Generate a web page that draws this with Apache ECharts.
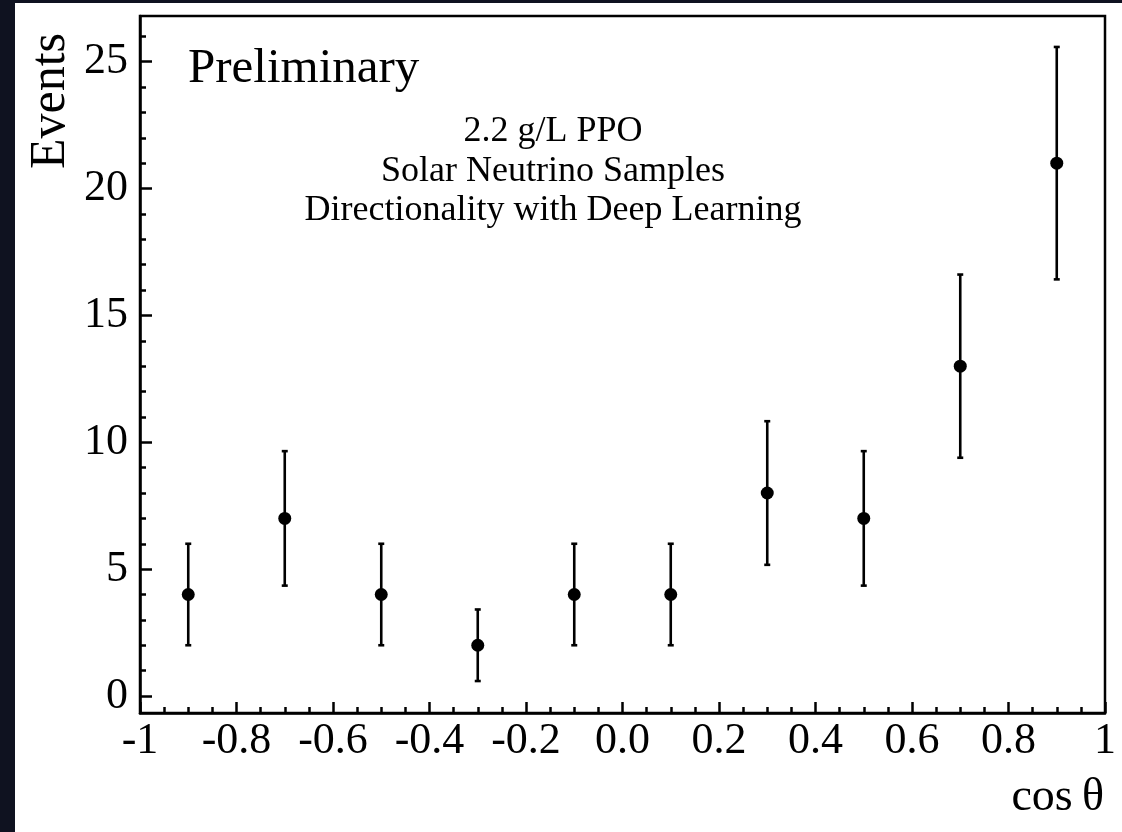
<!DOCTYPE html>
<html>
<head>
<meta charset="utf-8">
<script src="https://cdn.jsdelivr.net/npm/echarts@6/dist/echarts.min.js"></script>
<style>
  html, body { margin: 0; padding: 0; background: #0f1220; }
  #main { position: absolute; left: 15px; top: 3px; width: 1107px; height: 829px; background: #fff; }
</style>
</head>
<body>
<div id="main"></div>
<script>
// cos(theta) bin centres
var binCenters = [-0.9, -0.7, -0.5, -0.3, -0.1, 0.1, 0.3, 0.5, 0.7, 0.9];
// events per bin
var counts = [4, 7, 4, 2, 4, 4, 8, 7, 13, 21];
// error bar ends
var errLow  = [2.0, 4.35, 2.0, 0.59, 2.0, 2.0, 5.17, 4.35, 9.39, 16.42];
var errHigh = [6.0, 9.65, 6.0, 3.41, 6.0, 6.0, 10.83, 9.65, 16.61, 25.58];

var xTickLabels = ['-1', '-0.8', '-0.6', '-0.4', '-0.2', '0.0', '0.2', '0.4', '0.6', '0.8', '1'];
var yTickValues = [0, 5, 10, 15, 20, 25];
var yMinorValues = [];
for (var i = 0; i <= 26; i++) { yMinorValues.push(i); }

var FONT = 'Liberation Serif';

var chart = echarts.init(document.getElementById('main'));

var pointData = [];
var errData = [];
for (var i = 0; i < binCenters.length; i++) {
    pointData.push([binCenters[i], counts[i]]);
    errData.push([binCenters[i], errLow[i], errHigh[i]]);
}

function renderErr(params, api) {
    var lo = api.coord([api.value(0), api.value(1)]);
    var hi = api.coord([api.value(0), api.value(2)]);
    var cap = 3;
    var st = { stroke: '#000', lineWidth: 2.6 };
    return {
        type: 'group',
        children: [
            { type: 'line', shape: { x1: lo[0], y1: lo[1], x2: hi[0], y2: hi[1] }, style: st },
            { type: 'line', shape: { x1: lo[0] - cap, y1: lo[1], x2: lo[0] + cap, y2: lo[1] }, style: st },
            { type: 'line', shape: { x1: hi[0] - cap, y1: hi[1], x2: hi[0] + cap, y2: hi[1] }, style: st }
        ]
    };
}

chart.setOption({
    animation: false,
    backgroundColor: '#fff',
    grid: {
        left: 125, top: 13, right: 17, bottom: 119,
        show: true, borderColor: '#000', borderWidth: 2.5, backgroundColor: '#fff'
    },
    xAxis: {
        type: 'value', min: -1, max: 1, interval: 0.2,
        axisLine: { show: true, onZero: false, lineStyle: { color: '#000', width: 2.5 } },
        axisTick: { show: true, inside: true, length: 11, lineStyle: { color: '#000', width: 2.5 } },
        minorTick: { show: true, splitNumber: 4, length: 6, lineStyle: { color: '#000', width: 2.5 } },
        splitLine: { show: false },
        axisLabel: {
            margin: 6, color: '#000', fontFamily: FONT, fontSize: 44,
            formatter: function (v) { return xTickLabels[Math.round((v + 1) / 0.2)]; }
        }
    },
    yAxis: [{
        type: 'value', min: -0.67, max: 26.8, position: 'left',
        axisLine: { show: true, onZero: false, lineStyle: { color: '#000', width: 2.5 } },
        axisTick: { show: true, inside: true, length: 12, customValues: yTickValues, lineStyle: { color: '#000', width: 2.5 } },
        splitLine: { show: false },
        axisLabel: { margin: 12, color: '#000', fontFamily: FONT, fontSize: 44, customValues: yTickValues }
    }, {
        type: 'value', min: -0.67, max: 26.8, position: 'left', offset: 0,
        axisLine: { show: false, onZero: false },
        axisTick: { show: true, inside: true, length: 6, customValues: yMinorValues, lineStyle: { color: '#000', width: 2.5 } },
        splitLine: { show: false },
        axisLabel: { show: false }
    }],
    graphic: [
        { type: 'text', left: 173, top: 42, style: { text: 'Preliminary', font: '49px ' + FONT, fill: '#000' } },
        { type: 'text', x: 538, y: 129, style: { text: '2.2 g/L PPO', font: '36px ' + FONT, fill: '#000', align: 'center', verticalAlign: 'middle' } },
        { type: 'text', x: 538, y: 169, style: { text: 'Solar Neutrino Samples', font: '36px ' + FONT, fill: '#000', align: 'center', verticalAlign: 'middle' } },
        { type: 'text', x: 538, y: 208, style: { text: 'Directionality with Deep Learning', font: '36px ' + FONT, fill: '#000', align: 'center', verticalAlign: 'middle' } },
        { type: 'text', x: 36, y: 30, rotation: Math.PI / 2, style: { text: 'Events', font: '50px ' + FONT, fill: '#000', align: 'right', verticalAlign: 'middle' } },
        { type: 'text', x: 1089, y: 795, style: { text: 'cos\u2009\u03b8', font: '46px ' + FONT, fill: '#000', align: 'right', verticalAlign: 'middle' } }
    ],
    series: [{
        type: 'custom',
        renderItem: renderErr,
        data: errData,
        encode: { x: 0, y: [1, 2] },
        z: 2
    }, {
        type: 'scatter',
        data: pointData,
        symbol: 'circle',
        symbolSize: 13,
        itemStyle: { color: '#000', opacity: 1 },
        z: 3
    }]
});
</script>
</body>
</html>
